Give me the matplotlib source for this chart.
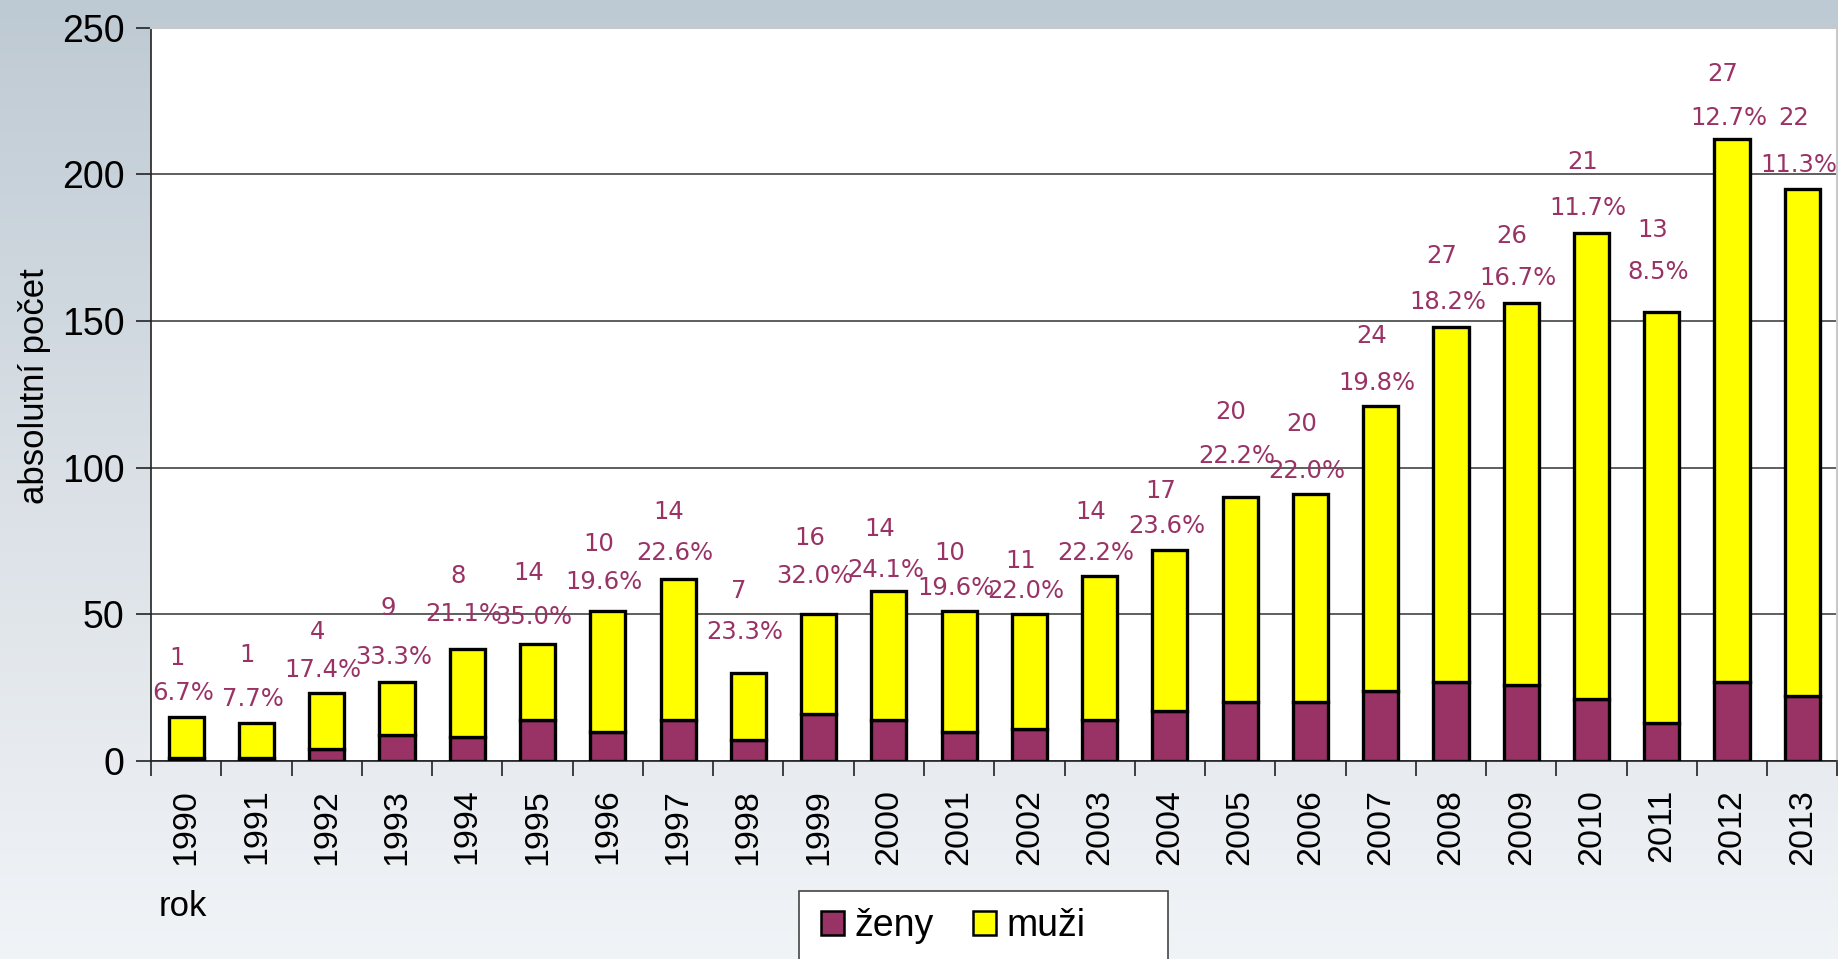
import numpy as np
import matplotlib
matplotlib.use('Agg')
import matplotlib.pyplot as plt
from matplotlib.patches import Patch, Rectangle

years = [str(y) for y in range(1990, 2014)]
women = [1, 1, 4, 9, 8, 14, 10, 14, 7, 16, 14, 10, 11, 14, 17, 20, 20, 24, 27, 26, 21, 13, 27, 22]
total = [15, 13, 23, 27, 38, 40, 51, 62, 30, 50, 58, 51, 50, 63, 72, 90, 91, 121, 148, 156, 180, 153, 212, 195]
men = [t - w for t, w in zip(total, women)]
pct_labels = ['6.7%', '7.7%', '17.4%', '33.3%', '21.1%', '35.0%', '19.6%', '22.6%', '23.3%', '32.0%',
              '24.1%', '19.6%', '22.0%', '22.2%', '23.6%', '22.2%', '22.0%', '19.8%', '18.2%', '16.7%',
              '11.7%', '8.5%', '12.7%', '11.3%']

# label heights as placed in the original (data units)
pct_y = [23, 21, 31, 35.5, 50, 49, 61, 71, 44, 63, 65, 59, 58, 71, 80, 104, 99, 129, 156.5, 164.5,
         188.5, 166.5, 219, 203]
num_y = [35, 36, 44, 52, 63, 64, 74, 85, 58, 76, 79, 71, 68, 85, 92, 119, 115, 145, 172, 179,
         204, 181, 234, 219]

PLUM = '#993366'
YELLOW = '#FFFF00'
TICKFONT = ['Liberation Sans']
LABELFONT = ['DejaVu Sans Condensed', 'DejaVu Sans']

fig = plt.figure(figsize=(18.38, 9.59), dpi=100)

# background gradient
bg = fig.add_axes([0, 0, 1, 1], zorder=-10)
top = np.array([190, 202, 211]) / 255
mid = np.array([218, 224, 230]) / 255
bot = np.array([241, 244, 247]) / 255
t = np.linspace(0, 1, 400)[:, None]
grad = np.where(t < 0.5, top + (mid - top) * (t / 0.5), mid + (bot - mid) * ((t - 0.5) / 0.5))
bg.imshow(grad[:, None, :], aspect='auto', extent=[0, 1, 0, 1])
bg.axis('off')

ax = fig.add_axes([0.0822, 0.2065, 0.9175, 0.7648])
ax.set_facecolor('white')
x = np.arange(len(years))
ax.bar(x, women, width=0.5, color=PLUM, edgecolor='black', linewidth=2.4, zorder=3)
ax.bar(x, men, width=0.5, bottom=women, color=YELLOW, edgecolor='black', linewidth=2.4, zorder=3)

for i in range(len(years)):
    ax.text(x[i] - 0.13, num_y[i], str(women[i]), ha='center', va='center', color=PLUM,
            fontsize=17.5, family=LABELFONT, zorder=4)
    ax.text(x[i] - 0.05, pct_y[i], pct_labels[i], ha='center', va='center', color=PLUM,
            fontsize=17.5, family=LABELFONT, zorder=4)

ax.set_xlim(-0.5, len(years) - 0.5)
ax.set_ylim(0, 250)
ax.set_yticks([0, 50, 100, 150, 200, 250])
ax.yaxis.grid(True, color='#333333', linewidth=1.1, zorder=0)
ax.set_axisbelow(True)

ax.set_xticks(x)
ax.set_xticklabels(years, rotation=90, fontsize=24.5, family=TICKFONT)
ax.set_xticks(np.arange(-0.5, len(years)), minor=True)
ax.tick_params(axis='x', which='major', length=0, pad=20)
ax.tick_params(axis='x', which='minor', length=11, width=1.2, color='#222222')
ax.tick_params(axis='y', length=11, width=1.2, color='#222222', labelsize=27, pad=8)
for lab in ax.get_yticklabels():
    lab.set_family(TICKFONT)

for side in ['top', 'right']:
    ax.spines[side].set_color('#c8c8c8')
    ax.spines[side].set_linewidth(1.5)
ax.spines['left'].set_color('#222222')
ax.spines['left'].set_linewidth(1.2)
ax.spines['bottom'].set_color('#222222')
ax.spines['bottom'].set_linewidth(1.2)

fig.text(0.019, 0.597, 'absolutní počet', rotation=90, ha='center', va='center',
         fontsize=25, family=TICKFONT)
fig.text(0.0865, 0.055, 'rok', ha='left', va='center', fontsize=25, family=TICKFONT)

# legend box (wider than its contents, as in the original)
fig.add_artist(Rectangle((0.4347, -0.02), 0.2008, 0.0911, transform=fig.transFigure,
                         facecolor='white', edgecolor='#444444', linewidth=1.2, zorder=5))
handles = [Patch(facecolor=PLUM, edgecolor='black', linewidth=1.8),
           Patch(facecolor=YELLOW, edgecolor='black', linewidth=1.8)]
leg = fig.legend(handles, ['ženy', 'muži'], loc='center left', bbox_to_anchor=(0.4465, 0.034),
                 ncol=2, frameon=False, handlelength=0.62, borderaxespad=0,
                 handleheight=0.62, handletextpad=0.28, columnspacing=1.05, borderpad=0,
                 prop={'family': TICKFONT, 'size': 27})
leg.set_zorder(6)

fig.savefig('out.png', dpi=100)
